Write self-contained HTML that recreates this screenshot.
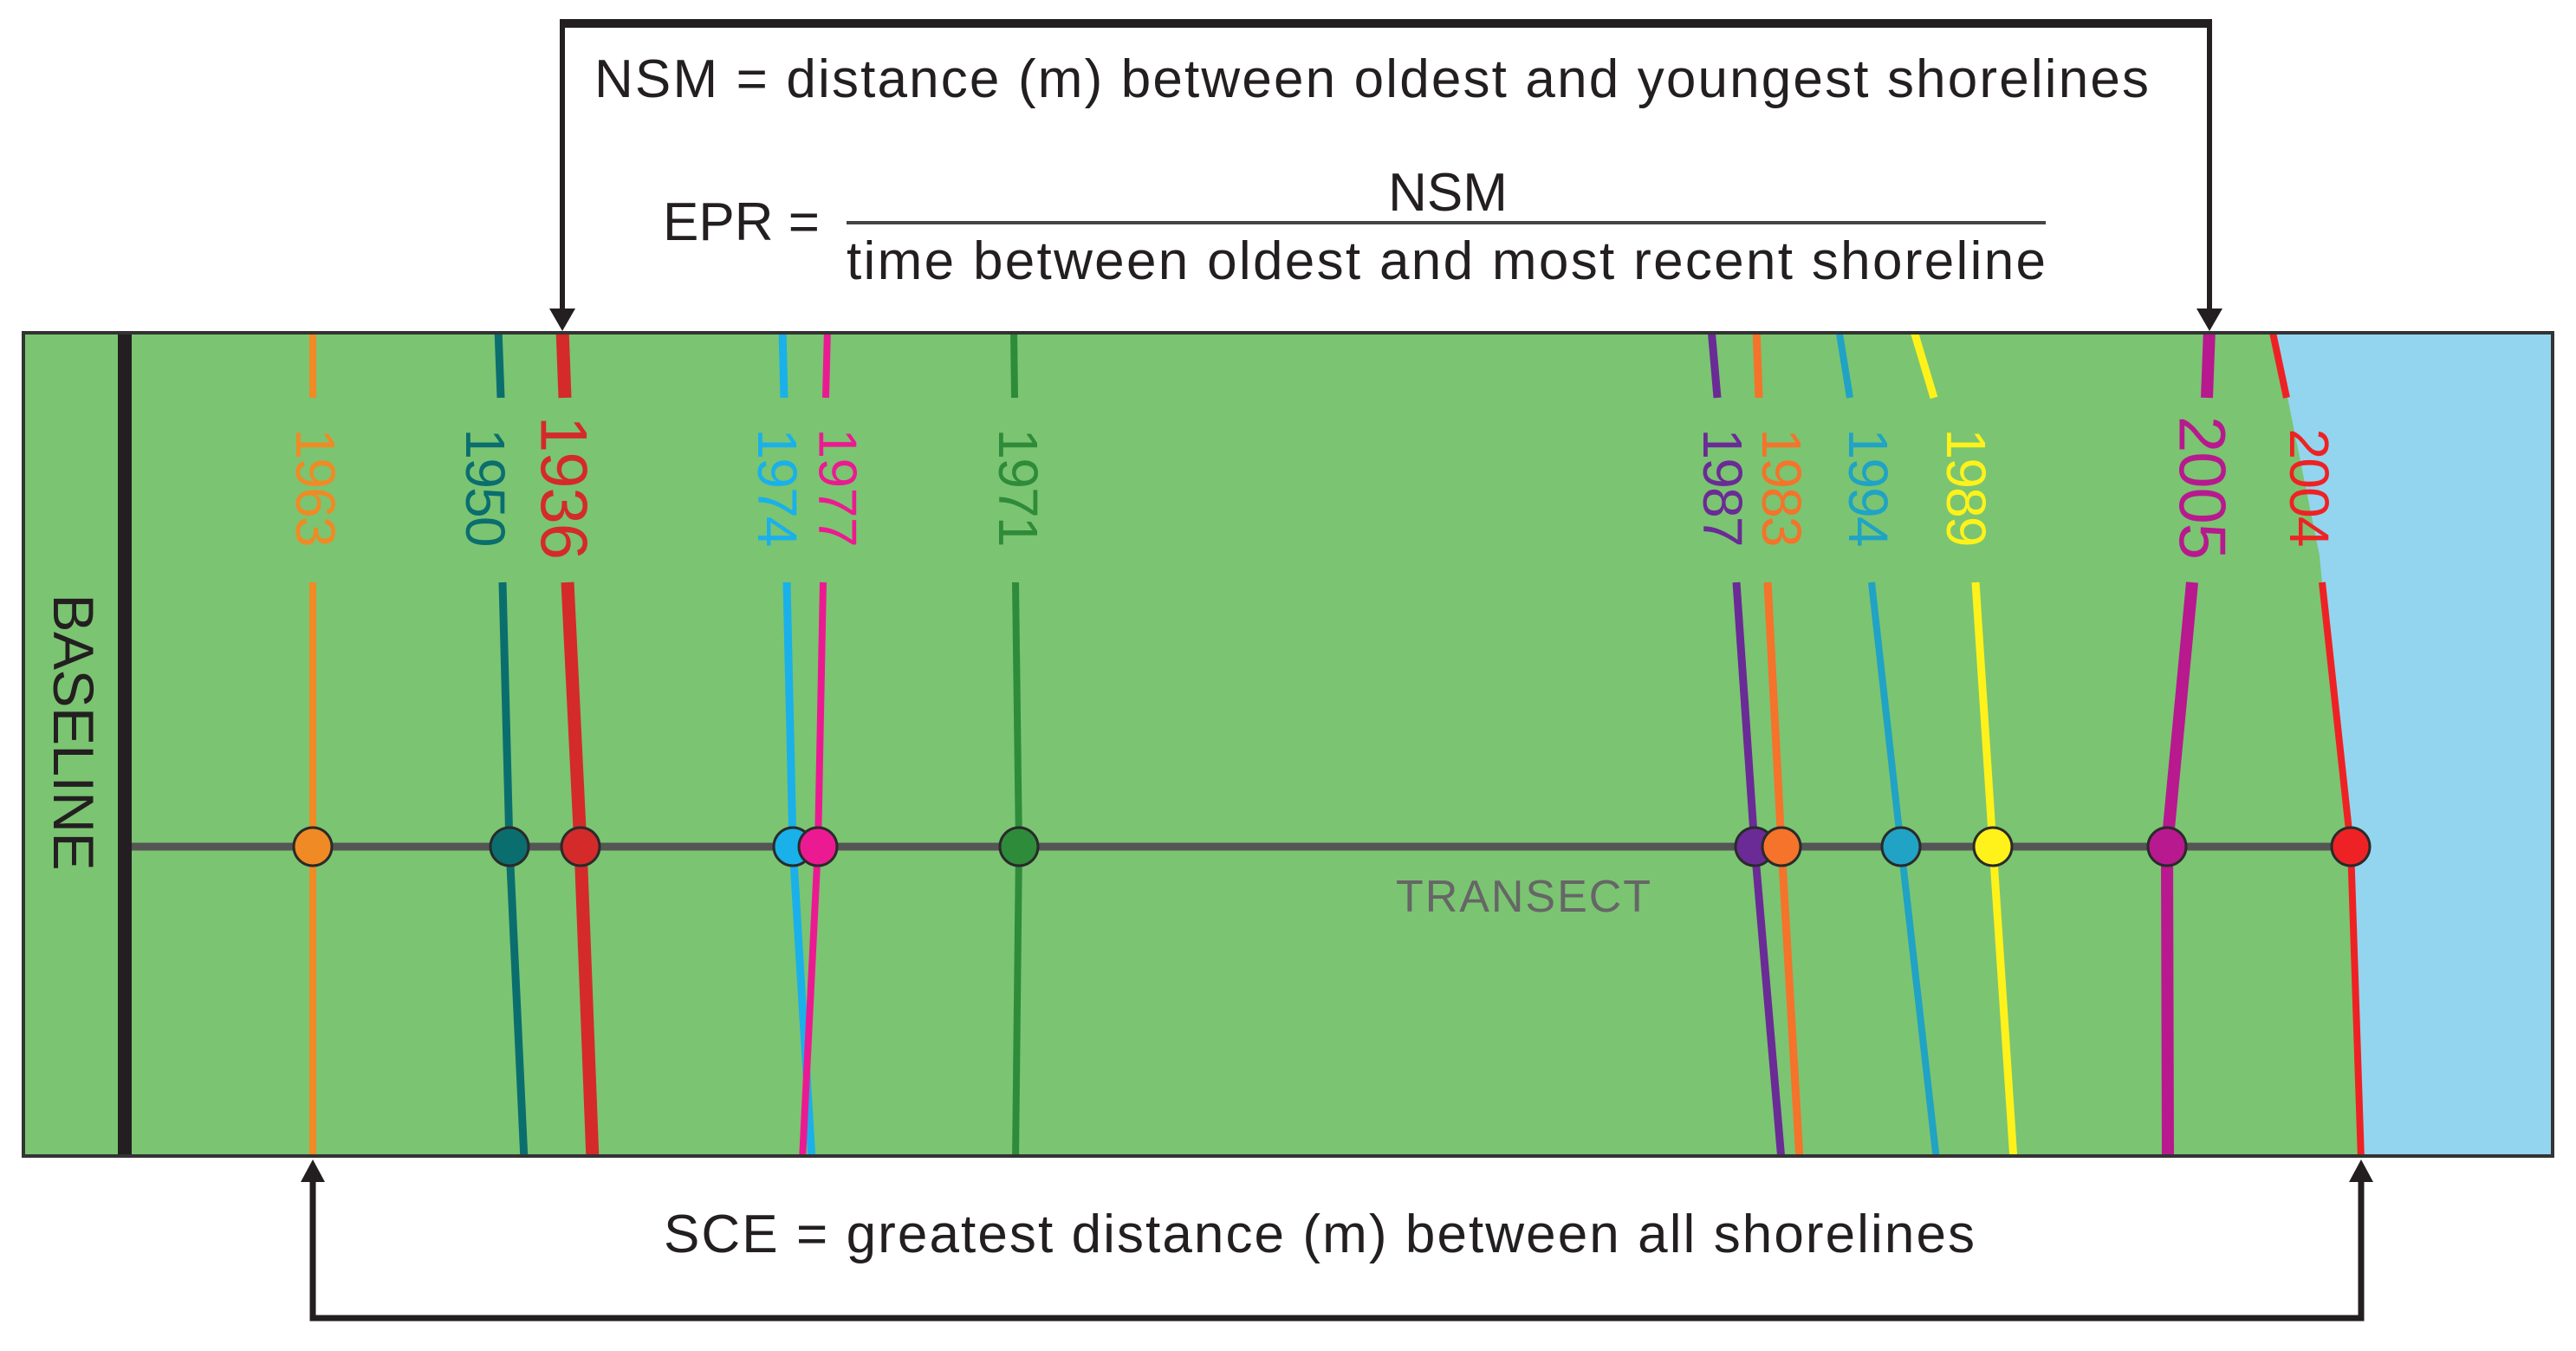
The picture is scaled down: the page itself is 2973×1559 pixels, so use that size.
<!DOCTYPE html>
<html><head><meta charset="utf-8"><style>
html,body{margin:0;padding:0;background:#fff;}
svg{display:block;}
text{font-family:"Liberation Sans",sans-serif;}
</style></head><body>
<svg id="fig" width="2973" height="1559" viewBox="0 0 2973 1559" xmlns="http://www.w3.org/2000/svg">
<defs><clipPath id="boxclip"><rect x="27" y="384" width="2919" height="950"/></clipPath></defs>
<rect x="27" y="384" width="2919" height="950" fill="#7bc472"/>
<polygon points="2625,384 2946,384 2946,1334 2725,1334 2713,977 2680,672 2677,641" fill="#93d5ee"/>
<rect x="136" y="384" width="16" height="950" fill="#231f20"/>
<text transform="translate(62,845) rotate(90)" font-size="66" text-anchor="middle" fill="#231f20" textLength="319">BASELINE</text>
<line x1="152" y1="977" x2="2713" y2="977" stroke="#555" stroke-width="9"/>
<text x="1611" y="1052" font-size="52" fill="#666" textLength="294">TRANSECT</text>
<g id="lines" clip-path="url(#boxclip)"></g>
<g id="labels"></g>
<g id="dots"></g>
<rect x="27" y="384" width="2919" height="950" fill="none" stroke="#333" stroke-width="4"/>
<!-- top bracket -->
<path d="M649,27 H2550" stroke="#231f20" stroke-width="10" fill="none"/>
<path d="M649,22 V360 M2550,22 V360" stroke="#231f20" stroke-width="6" fill="none"/>
<polygon points="634,356 664,356 649,382" fill="#231f20"/>
<polygon points="2535,356 2565,356 2550,382" fill="#231f20"/>
<text x="686" y="112" font-size="62" fill="#231f20" textLength="1794">NSM = distance (m) between oldest and youngest shorelines</text>
<text x="765" y="277" font-size="62" fill="#231f20">EPR =</text>
<line x1="977" y1="257" x2="2361" y2="257" stroke="#444" stroke-width="4"/>
<text x="1671" y="243" font-size="62" fill="#231f20" text-anchor="middle">NSM</text>
<text x="977" y="322" font-size="62" fill="#231f20" textLength="1384">time between oldest and most recent shoreline</text>
<!-- bottom bracket -->
<path d="M361,1360 V1521 H2725 V1360" stroke="#231f20" stroke-width="7" fill="none"/>
<polygon points="347,1364 375,1364 361,1338" fill="#231f20"/>
<polygon points="2711,1364 2739,1364 2725,1338" fill="#231f20"/>
<text x="766" y="1445" font-size="62" fill="#231f20" textLength="1513">SCE = greatest distance (m) between all shorelines</text>
</svg>
<script>
// shoreline years and their x positions at: top edge, label top gap, label bottom gap, transect, bottom edge
const years = ["1963","1950","1936","1974","1977","1971","1987","1983","1994","1989","2005","2004"];
const colors = ["#f08a24","#0b6e6e","#d42a2a","#1ab0ea","#ec1a92","#2e8b3a","#6a2b96","#f5732a","#20a3c4","#fff21a","#b8198f","#ee2224"];
const xTop = [361,575,649,903,955,1170,1975,2027,2122,2208,2550,2622];
const xLblTop = [361,578,652,905,953,1171,1982,2030,2135,2232,2547,2639];
const xLblBot = [361,580,655,908,950,1172,2004,2040,2160,2280,2530,2680];
const xTransect = [361,588,670,915,944,1176,2025,2056,2194,2300,2501,2713];
const xBottom = [361,605,684,937,926,1172,2056,2077,2235,2324,2502,2725];
const widths = [8,9,15,9,8,8,9,9,8,9,14,8];
const labelX = [365,561,652,898,968,1176,1989,2057,2157,2270,2543,2666];
const labelSize = [64,64,76,64,62,64,64,64,64,64,76,64];
const labelLen = [137,137,166,137,137,137,137,137,137,137,166,137];

const NS = "http://www.w3.org/2000/svg";
const Y_TOP = 384, Y_LT = 459, Y_LB = 672, Y_TR = 977, Y_BOT = 1334, LABEL_Y = 563;
const gL = document.getElementById('lines'), gT = document.getElementById('labels'), gD = document.getElementById('dots');
years.forEach((yr, i) => {
  const p1 = document.createElementNS(NS, 'path');
  p1.setAttribute('d', `M${xTop[i]},${Y_TOP-5} L${xLblTop[i]},${Y_LT}`);
  p1.setAttribute('stroke', colors[i]); p1.setAttribute('stroke-width', widths[i]); p1.setAttribute('fill', 'none');
  
  
  gL.appendChild(p1);
  const p2 = document.createElementNS(NS, 'path');
  p2.setAttribute('d', `M${xLblBot[i]},${Y_LB} L${xTransect[i]},${Y_TR} L${xBottom[i]},${Y_BOT+5}`);
  p2.setAttribute('stroke', colors[i]); p2.setAttribute('stroke-width', widths[i]); p2.setAttribute('fill', 'none');
  p2.setAttribute('stroke-linejoin', 'round');
  
  
  gL.appendChild(p2);
  const t = document.createElementNS(NS, 'text');
  t.setAttribute('transform', `translate(${labelX[i] - labelSize[i]*0.36},${LABEL_Y}) rotate(90)`);
  t.setAttribute('font-size', labelSize[i]); t.setAttribute('text-anchor', 'middle');
  t.setAttribute('fill', colors[i]); t.setAttribute('textLength', labelLen[i]);
  t.textContent = yr;
  
  
  gT.appendChild(t);
  const c = document.createElementNS(NS, 'circle');
  c.setAttribute('cx', xTransect[i]); c.setAttribute('cy', Y_TR); c.setAttribute('r', 22);
  c.setAttribute('fill', colors[i]); c.setAttribute('stroke', '#2a2a2a'); c.setAttribute('stroke-width', 3);
  
  
  gD.appendChild(c);
});
</script>
</body></html>
